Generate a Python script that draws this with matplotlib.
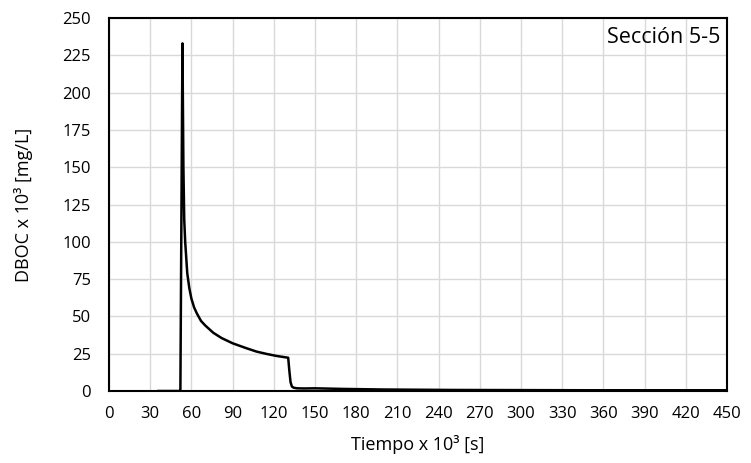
import matplotlib.pyplot as plt

plt.rcParams['font.family'] = ['Open Sans', 'DejaVu Sans']

# tiempo x 10^3 [s] y DBOC x 10^3 [mg/L]
tiempo = [36, 51.5, 52.0, 53.5, 54.2, 54.8, 55.5, 57, 58.5, 60, 62, 64, 67, 70, 76, 82,
          90, 100, 107.5, 115, 122, 130.5, 131.3, 132.2, 133.2, 134.5, 137, 142,
          150, 170, 200, 250, 300, 350, 400, 450]
dboc = [0, 0, 0, 233, 150, 115, 100, 79, 69, 62, 56, 52, 47, 44, 39, 35.5,
        32, 28.7, 26.4, 24.8, 23.5, 22.3, 14, 6, 3, 2.2, 1.8, 1.7,
        1.8, 1.4, 1.0, 0.7, 0.6, 0.5, 0.5, 0.5]

x_ticks = list(range(0, 451, 30))
y_ticks = list(range(0, 251, 25))

fig = plt.figure(figsize=(7.51, 4.63), dpi=100)
ax = fig.add_axes([0.1451, 0.1555, 0.8229, 0.8056])

ax.plot(tiempo, dboc, color='black', lw=1.8, solid_joinstyle='round', zorder=3)

ax.set_xlim(0, 450)
ax.set_ylim(0, 250)
ax.set_xticks(x_ticks)
ax.set_yticks(y_ticks)
ax.tick_params(length=0, labelsize=12)
ax.tick_params(axis='x', pad=11)
ax.tick_params(axis='y', pad=13)
ax.grid(True, color='#d9d9d9', lw=1)
ax.set_axisbelow(True)
for s in ax.spines.values():
    s.set_linewidth(1.5)
    s.set_color('black')

ax.set_xlabel('Tiempo x 10³ [s]', fontsize=13, labelpad=9)
ax.set_ylabel('DBOC x 10³ [mg/L]', fontsize=13, labelpad=21)
ax.text(0.99, 0.975, 'Sección 5-5', transform=ax.transAxes, ha='right', va='top',
        fontsize=15.5)

fig.savefig('out.png', dpi=100)
